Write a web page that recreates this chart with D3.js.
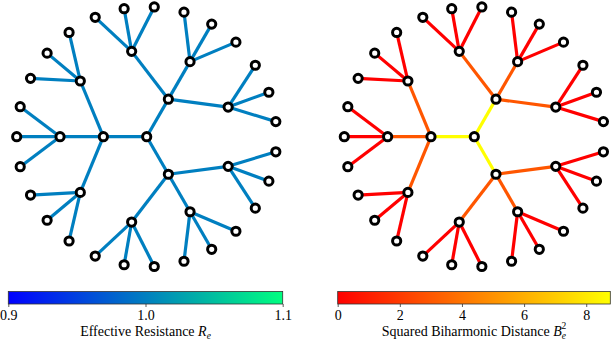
<!DOCTYPE html>
<html>
<head>
<meta charset="utf-8">
<script src="https://cdn.jsdelivr.net/npm/d3@7"></script>
<style>
  html, body { margin: 0; padding: 0; background: #fff; }
  svg { display: block; }
  text { font-family: "Liberation Serif", "Times New Roman", serif; }
</style>
</head>
<body>
<svg id="chart" width="612" height="344"></svg>
<script>
// ---------- DATA ----------
// tree: node ids and their parent ids (root has no parent)
const nodeIds = d3.range(40).map(String);
const parentIds = [
  "", "0", "0", "0",
  "1", "1", "1", "2", "2", "2", "3", "3", "3",
  "4", "4", "4", "5", "5", "5", "6", "6", "6",
  "7", "7", "7", "8", "8", "8", "9", "9", "9",
  "10", "10", "10", "11", "11", "11", "12", "12", "12"
];
// per-edge values, indexed by child node id (1..39)
const effectiveResistance = [
  1.0, 1.0, 1.0,
  1.0, 1.0, 1.0, 1.0, 1.0, 1.0, 1.0, 1.0, 1.0,
  1.0, 1.0, 1.0, 1.0, 1.0, 1.0, 1.0, 1.0, 1.0,
  1.0, 1.0, 1.0, 1.0, 1.0, 1.0, 1.0, 1.0, 1.0,
  1.0, 1.0, 1.0, 1.0, 1.0, 1.0, 1.0, 1.0, 1.0
];
const biharmonicSq = [
  8.775, 8.775, 8.775,
  3.6, 3.6, 3.6, 3.6, 3.6, 3.6, 3.6, 3.6, 3.6,
  0.975, 0.975, 0.975, 0.975, 0.975, 0.975, 0.975, 0.975, 0.975,
  0.975, 0.975, 0.975, 0.975, 0.975, 0.975, 0.975, 0.975, 0.975,
  0.975, 0.975, 0.975, 0.975, 0.975, 0.975, 0.975, 0.975, 0.975
];
const resistanceDomain = [0.9, 1.1];
const resistanceTicks = [0.9, 1.0, 1.1];
const biharmonicDomain = [0, 8.775];
const biharmonicTicks = [0, 2, 4, 6, 8];

// ---------- COLOR MAPS ----------
const winter = d3.scaleLinear().domain(resistanceDomain).range(["#0000ff", "#00ff80"]).clamp(true);
const autumn = d3.scaleLinear().domain(biharmonicDomain).range(["#ff0000", "#ffff00"]).clamp(true);
// edges are normalised between the smallest and largest edge value
const autumnEdges = d3.scaleLinear().domain(d3.extent(biharmonicSq)).range(["#ff0000", "#ffff00"]).clamp(true);

const svg = d3.select("#chart");
const defs = svg.append("defs");

// ---------- LAYOUT ----------
function buildTree() {
  const table = nodeIds.map((id, i) => ({ id, parentId: parentIds[i] || null }));
  const root = d3.stratify().id(d => d.id).parentId(d => d.parentId)(table);
  d3.cluster().size([2 * Math.PI, 1]).separation(() => 1)(root);
  return root;
}

function drawGraph(cx, cy, values, color) {
  const root = buildTree();
  const xs = d3.scaleLinear().domain([-1, 1]).range([cx - 130, cx + 130]);
  const ys = d3.scaleLinear().domain([-1, 1]).range([cy - 130, cy + 130]);
  const px = n => xs(n.y * Math.cos(n.x));
  const py = n => ys(n.y * Math.sin(n.x));
  const g = svg.append("g");
  g.selectAll("line")
    .data(root.links())
    .join("line")
    .attr("x1", d => px(d.source)).attr("y1", d => py(d.source))
    .attr("x2", d => px(d.target)).attr("y2", d => py(d.target))
    .attr("stroke", d => color(values[+d.target.id - 1]))
    .attr("stroke-width", 3.2);
  g.selectAll("circle")
    .data(root.descendants())
    .join("circle")
    .attr("cx", px).attr("cy", py)
    .attr("r", 4.1)
    .attr("fill", "#fff")
    .attr("stroke", "#000")
    .attr("stroke-width", 3);
}

drawGraph(146.7, 136.7, effectiveResistance, winter);
drawGraph(474.3, 136.7, biharmonicSq, autumnEdges);

// ---------- COLORBARS ----------
function drawColorbar(id, x0, x1, domain, ticks, color, fmt, labelParts) {
  const y0 = 291.5, h = 12.5;
  const grad = defs.append("linearGradient").attr("id", id)
    .attr("x1", "0%").attr("x2", "100%").attr("y1", "0%").attr("y2", "0%");
  d3.range(0, 1.0001, 0.1).forEach(t => {
    grad.append("stop").attr("offset", (t * 100) + "%")
      .attr("stop-color", color(domain[0] + t * (domain[1] - domain[0])));
  });
  const s = d3.scaleLinear().domain(domain).range([x0, x1]);
  svg.append("rect")
    .attr("x", x0).attr("y", y0).attr("width", x1 - x0).attr("height", h)
    .attr("fill", `url(#${id})`)
    .attr("stroke", "#333").attr("stroke-width", 0.8);
  const ax = svg.append("g")
    .attr("transform", `translate(0,${y0 + h})`)
    .call(d3.axisBottom(s).tickValues(ticks).tickFormat(fmt).tickSize(3).tickPadding(3));
  ax.select(".domain").remove();
  ax.selectAll(".tick line").attr("stroke", "#333").attr("stroke-width", 0.8);
  ax.selectAll(".tick text")
    .attr("fill", "#000")
    .style("font-family", '"Liberation Serif", serif')
    .style("font-size", "14px");
  const label = svg.append("text")
    .attr("x", (x0 + x1) / 2).attr("y", 335.5)
    .attr("text-anchor", "middle")
    .style("font-size", "14px")
    .attr("fill", "#000");
  labelParts(label);
}

drawColorbar("gradW", 8.3, 282.7, resistanceDomain, resistanceTicks, winter, d3.format(".1f"), t => {
  t.append("tspan").text("Effective Resistance ");
  t.append("tspan").style("font-style", "italic").text("R");
  t.append("tspan").style("font-style", "italic").style("font-size", "9.5px").attr("dy", 3).text("e");
});
drawColorbar("gradA", 337.7, 610.3, biharmonicDomain, biharmonicTicks, autumn, d3.format("d"), t => {
  t.append("tspan").text("Squared Biharmonic Distance ");
  t.append("tspan").style("font-style", "italic").text("B");
  t.append("tspan").style("font-style", "italic").style("font-size", "9.5px").attr("dy", 3.5).text("e");
  t.append("tspan").style("font-size", "9.5px").attr("dx", -4.5).attr("dy", -10).text("2");
});
</script>
</body>
</html>
